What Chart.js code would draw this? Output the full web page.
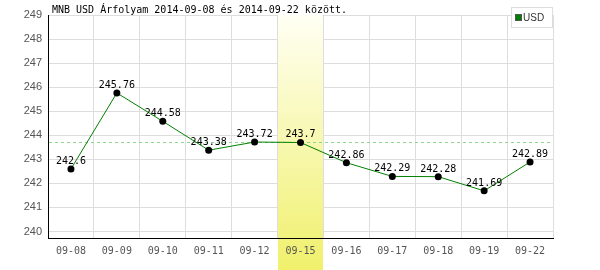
<!DOCTYPE html>
<html>
<head>
<meta charset="utf-8">
<script src="https://cdn.jsdelivr.net/npm/chart.js@4/dist/chart.umd.min.js"></script>
<style>
  html, body { margin: 0; padding: 0; background: #ffffff; }
  #wrap { width: 600px; height: 270px; position: relative; }
</style>
</head>
<body>
<div id="wrap"><canvas id="c" width="600" height="270"></canvas></div>
<script>
const categories = ['09-08', '09-09', '09-10', '09-11', '09-12', '09-15', '09-16', '09-17', '09-18', '09-19', '09-22'];
const rates = [242.6, 245.76, 244.58, 243.38, 243.72, 243.7, 242.86, 242.29, 242.28, 241.69, 242.89];
const rateLabels = ['242.6', '245.76', '244.58', '243.38', '243.72', '243.7', '242.86', '242.29', '242.28', '241.69', '242.89'];
const yTicks = [240, 241, 242, 243, 244, 245, 246, 247, 248, 249];
const highlightCategory = '09-15';
const referenceValue = 243.7;
const titleText = 'MNB USD Árfolyam 2014-09-08 és 2014-09-22 között.';
const seriesName = 'USD';

const MONO = '"DejaVu Sans Mono", monospace';
const SANS = '"Liberation Sans", Arial, sans-serif';
const NARROW = '"Liberation Sans Narrow", "Liberation Sans", Arial, sans-serif';

function bandGradient(ctx, top) {
  const g = ctx.createLinearGradient(0, top, 0, 270);
  g.addColorStop(0, '#fffff4');
  g.addColorStop(1, '#f0f06c');
  return g;
}
function bandX(chart) {
  const x = chart.scales.x;
  const i = categories.indexOf(highlightCategory);
  const c = x.getPixelForValue(i);
  const w = x.getPixelForValue(1) - x.getPixelForValue(0);
  return [Math.floor(c - w / 2) + 1, Math.floor(c + w / 2)];
}

const decor = {
  id: 'decor',
  beforeDraw(chart) {
    const ctx = chart.ctx;
    const a = chart.chartArea;
    const [l, r] = bandX(chart);
    ctx.save();
    ctx.fillStyle = bandGradient(ctx, a.top);
    ctx.fillRect(l, a.bottom + 1, r - l, 270 - a.bottom - 1);
    ctx.restore();
  },
  beforeDatasetsDraw(chart) {
    const ctx = chart.ctx;
    const a = chart.chartArea;
    const [l, r] = bandX(chart);
    ctx.save();
    ctx.fillStyle = bandGradient(ctx, a.top);
    ctx.fillRect(l, a.top, r - l, a.bottom - a.top);
    const y = Math.round(chart.scales.y.getPixelForValue(referenceValue)) + 0.5;
    ctx.strokeStyle = '#8fd48f';
    ctx.lineWidth = 1;
    ctx.setLineDash([3, 3]);
    ctx.beginPath();
    ctx.moveTo(a.left + 1, y);
    ctx.lineTo(a.right, y);
    ctx.stroke();
    ctx.restore();
  },
  afterDatasetsDraw(chart) {
    const ctx = chart.ctx;
    const meta = chart.getDatasetMeta(0);
    ctx.save();
    ctx.font = '10px ' + MONO;
    ctx.fillStyle = '#000000';
    ctx.textAlign = 'center';
    ctx.textBaseline = 'alphabetic';
    meta.data.forEach((p, i) => {
      ctx.fillText(rateLabels[i], p.x, p.y - 5);
    });
    ctx.restore();
  },
  afterDraw(chart) {
    const ctx = chart.ctx;
    ctx.save();
    ctx.font = '10px ' + MONO;
    ctx.fillStyle = '#000000';
    ctx.textAlign = 'left';
    ctx.textBaseline = 'alphabetic';
    ctx.fillText(titleText, 52, 13);
    // legend
    ctx.fillStyle = '#ffffff';
    ctx.fillRect(511, 7, 42, 21);
    ctx.strokeStyle = '#dddddd';
    ctx.lineWidth = 1;
    ctx.strokeRect(511.5, 7.5, 41, 20);
    ctx.fillStyle = '#008000';
    ctx.fillRect(515, 14, 7, 7);
    ctx.strokeStyle = '#555555';
    ctx.strokeRect(515.5, 14.5, 6, 6);
    ctx.fillStyle = '#333333';
    ctx.font = '10px ' + SANS;
    ctx.fillText(seriesName, 523, 21);
    ctx.restore();
  }
};

new Chart(document.getElementById('c'), {
  type: 'line',
  data: {
    labels: categories,
    datasets: [{
      label: seriesName,
      data: rates,
      borderColor: '#008000',
      borderWidth: 1,
      tension: 0,
      pointRadius: 3.5,
      pointBackgroundColor: '#000000',
      pointBorderColor: '#000000',
      pointBorderWidth: 0,
      fill: false
    }]
  },
  options: {
    responsive: false,
    animation: false,
    events: [],
    layout: { padding: { top: 15, right: 47, bottom: 0, left: 0 } },
    plugins: { legend: { display: false }, title: { display: false }, tooltip: { enabled: false } },
    scales: {
      x: {
        type: 'category',
        offset: true,
        grid: { offset: true, color: '#dddddd', drawTicks: false },
        border: { color: '#000000', width: 1 },
        ticks: { font: { family: MONO, size: 10 }, color: '#555555', padding: 7, maxRotation: 0, autoSkip: false },
        afterFit(s) { s.height = 32; }
      },
      y: {
        min: 239.73,
        max: 249,
        grid: { color: '#dddddd', drawTicks: false },
        border: { color: '#000000', width: 1 },
        ticks: { font: { family: NARROW, size: 11 }, color: '#555555', padding: 6 },
        afterBuildTicks(s) { s.ticks = yTicks.map(v => ({ value: v })); },
        afterFit(s) { s.width = 48; }
      }
    }
  },
  plugins: [decor]
});
</script>
</body>
</html>
